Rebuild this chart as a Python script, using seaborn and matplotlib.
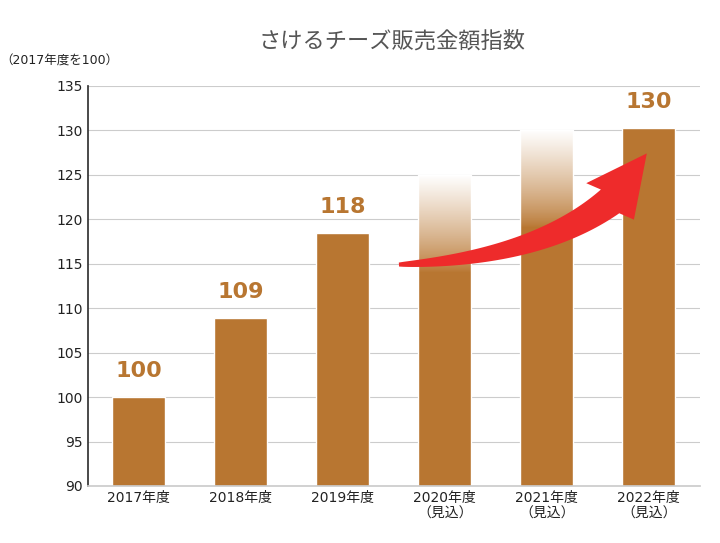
import matplotlib
matplotlib.use("Agg")
import matplotlib.pyplot as plt
import seaborn as sns
import numpy as np
import pandas as pd
from matplotlib.patches import Polygon

categories = ["2017年度", "2018年度", "2019年度", "2020年度\n（見込）", "2021年度\n（見込）", "2022年度\n（見込）"]
values = [100, 108.9, 118.4, 125, 130, 130.2]
labels = ["100", "109", "118", "", "", "130"]
faded = [False, False, False, True, True, False]

sns.set_theme(style="white")
plt.rcParams['font.family'] = ['DejaVu Sans', 'Noto Sans CJK JP']
color = "#B87631"

fig = plt.figure(figsize=(7.2, 5.43), dpi=100)
ax = fig.add_axes([0.122, 0.105, 0.85, 0.737])
df = pd.DataFrame({"cat": categories, "val": values})
sns.barplot(data=df, x="cat", y="val", color=color, saturation=1, width=0.52, ax=ax, zorder=2)
ax.set_ylim(90, 135)
ax.set_xlim(-0.5, 5.5)
ax.set_yticks(np.arange(90, 136, 5))
ax.yaxis.grid(True, color="#cccccc", lw=0.8, zorder=0)
ax.set_axisbelow(True)
for s in ["top", "right"]:
    ax.spines[s].set_visible(False)
ax.spines["left"].set_color("#333333")
ax.spines["bottom"].set_color("#cccccc")
ax.set_xlabel(""); ax.set_ylabel("")
ax.tick_params(axis="both", labelsize=10, colors="#222222", length=0)

for i, (v, lab, f) in enumerate(zip(values, labels, faded)):
    if lab:
        ax.text(i, v + 1.8, lab, ha="center", va="bottom", fontsize=16, fontweight="bold", color=color)
    if f:
        grad = np.zeros((100, 1, 4))
        grad[..., :3] = 1.0
        grad[:, 0, 3] = np.linspace(1, 0, 100) ** 0.8
        ax.imshow(grad, extent=[i - 0.26, i + 0.26, v - 11, v], aspect="auto", zorder=3, origin="upper")
ax.set_xlim(-0.5, 5.5); ax.set_ylim(90, 135)

# tapered curved arrow (decoration), built in display space
T = ax.transData
P0 = T.transform((2.55, 114.9)); P1 = T.transform((3.9, 115.6)); P2 = T.transform((4.62, 122.0))
tip = T.transform((4.98, 127.4))
t = np.linspace(0, 1, 60)[:, None]
C = (1 - t) ** 2 * P0 + 2 * (1 - t) * t * P1 + t ** 2 * P2
D = 2 * (1 - t) * (P1 - P0) + 2 * t * (P2 - P1)
N = np.column_stack([-D[:, 1], D[:, 0]]); N /= np.linalg.norm(N, axis=1, keepdims=True)
w = (2 + 13 * t[:, 0] ** 0.8)[:, None]
L = C + N * w; R = C - N * w
d = (tip - P2) / np.linalg.norm(tip - P2); n = np.array([-d[1], d[0]])
hw = 30
pts = np.vstack([L, P2 + n * hw, tip, P2 - n * hw, R[::-1]])
ax.add_patch(Polygon(pts, closed=True, transform=None, color="#EE2B2B", zorder=5, lw=0))

fig.text(0.545, 0.925, "さけるチーズ販売金額指数", ha="center", va="center", fontsize=16, color="#555555",
         family=['Noto Sans CJK JP', 'DejaVu Sans'])
fig.text(0.0, 0.888, "（2017年度を100）", ha="left", va="center", fontsize=9, color="#222222")
fig.savefig("out.png", dpi=100)
